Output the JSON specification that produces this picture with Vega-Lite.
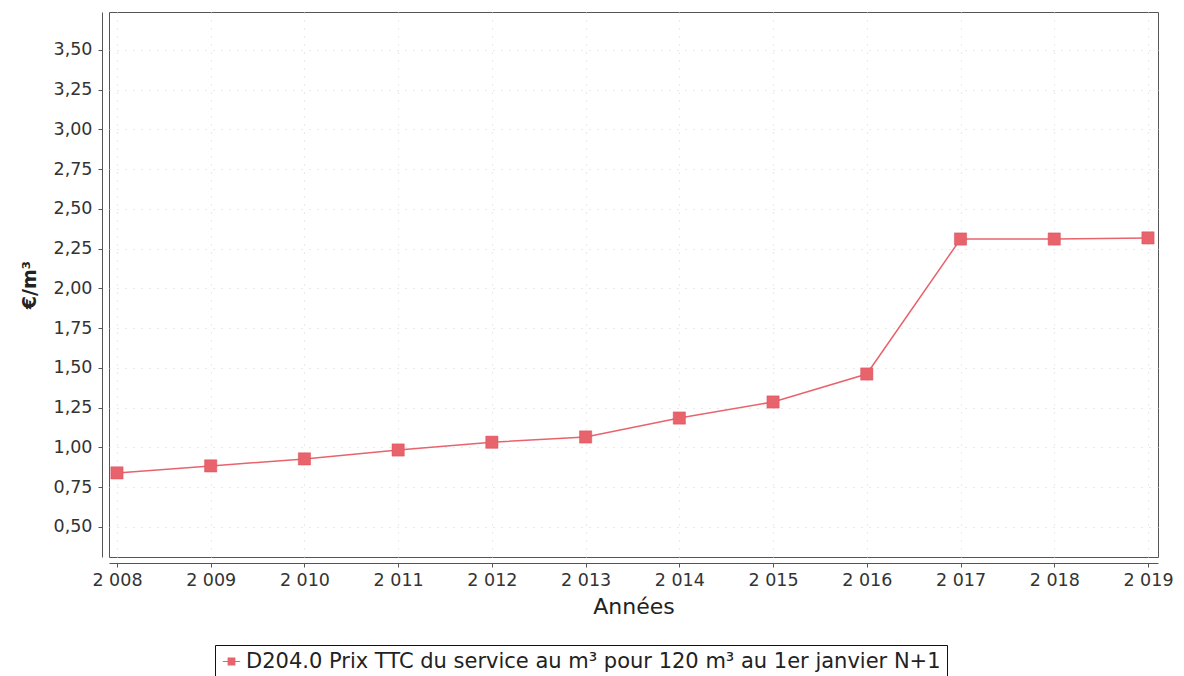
{
  "$schema": "https://vega.github.io/schema/vega-lite/v6.json",
  "width": 1049,
  "height": 545,
  "autosize": "none",
  "padding": {"left": 109, "top": 12, "right": 26, "bottom": 119},
  "background": "white",
  "config": {
    "view": {"stroke": "#555555", "strokeWidth": 1},
    "font": "DejaVu Sans"
  },
  "data": {
    "values": [
      {"annee": 2008, "prix": 0.84, "serie": "D204.0 Prix TTC du service au m³ pour 120 m³ au 1er janvier N+1"},
      {"annee": 2009, "prix": 0.884, "serie": "D204.0 Prix TTC du service au m³ pour 120 m³ au 1er janvier N+1"},
      {"annee": 2010, "prix": 0.928, "serie": "D204.0 Prix TTC du service au m³ pour 120 m³ au 1er janvier N+1"},
      {"annee": 2011, "prix": 0.984, "serie": "D204.0 Prix TTC du service au m³ pour 120 m³ au 1er janvier N+1"},
      {"annee": 2012, "prix": 1.033, "serie": "D204.0 Prix TTC du service au m³ pour 120 m³ au 1er janvier N+1"},
      {"annee": 2013, "prix": 1.066, "serie": "D204.0 Prix TTC du service au m³ pour 120 m³ au 1er janvier N+1"},
      {"annee": 2014, "prix": 1.185, "serie": "D204.0 Prix TTC du service au m³ pour 120 m³ au 1er janvier N+1"},
      {"annee": 2015, "prix": 1.286, "serie": "D204.0 Prix TTC du service au m³ pour 120 m³ au 1er janvier N+1"},
      {"annee": 2016, "prix": 1.462, "serie": "D204.0 Prix TTC du service au m³ pour 120 m³ au 1er janvier N+1"},
      {"annee": 2017, "prix": 2.311, "serie": "D204.0 Prix TTC du service au m³ pour 120 m³ au 1er janvier N+1"},
      {"annee": 2018, "prix": 2.311, "serie": "D204.0 Prix TTC du service au m³ pour 120 m³ au 1er janvier N+1"},
      {"annee": 2019, "prix": 2.318, "serie": "D204.0 Prix TTC du service au m³ pour 120 m³ au 1er janvier N+1"}
    ]
  },
  "encoding": {
    "x": {
      "field": "annee",
      "type": "quantitative",
      "scale": {"domain": [2007.915, 2019.107], "nice": false, "zero": false},
      "axis": {
        "title": "Années",
        "titleFontSize": 22,
        "titleFontWeight": "normal",
        "titleColor": "#222222",
        "titlePadding": 8,
        "values": [2008, 2009, 2010, 2011, 2012, 2013, 2014, 2015, 2016, 2017, 2018, 2019],
        "labelExpr": "substring(toString(datum.value),0,1) + ' ' + substring(toString(datum.value),1,4)",
        "labelFontSize": 17.5,
        "labelColor": "#333333",
        "labelPadding": 4,
        "offset": 6,
        "domainColor": "#555555",
        "tickColor": "#555555",
        "tickSize": 4,
        "grid": true,
        "gridColor": "#d4d4d4",
        "gridDash": [1, 7],
        "gridWidth": 1
      }
    },
    "y": {
      "field": "prix",
      "type": "quantitative",
      "scale": {"domain": [0.311, 3.739], "nice": false, "zero": false},
      "axis": {
        "title": "€/m³",
        "titleFontSize": 19,
        "titleFontWeight": "bold",
        "titleColor": "#222222",
        "titlePadding": 14,
        "values": [0.5, 0.75, 1, 1.25, 1.5, 1.75, 2, 2.25, 2.5, 2.75, 3, 3.25, 3.5],
        "labelExpr": "replace(format(datum.value, '.2f'), '.', ',')",
        "labelFontSize": 17.5,
        "labelColor": "#333333",
        "labelPadding": 6,
        "offset": 7,
        "domainColor": "#555555",
        "tickColor": "#555555",
        "tickSize": 4,
        "grid": true,
        "gridColor": "#d4d4d4",
        "gridDash": [1, 7],
        "gridWidth": 1
      }
    },
    "color": {
      "field": "serie",
      "type": "nominal",
      "scale": {"range": ["#e8636c"]},
      "legend": {
        "title": null,
        "orient": "none",
        "legendX": 106,
        "legendY": 633,
        "strokeColor": "#111111",
        "padding": 6,
        "labelFontSize": 21,
        "labelColor": "#222222",
        "labelLimit": 900,
        "symbolType": "M-1,-0.05H1V0.05H-1Z M-0.45,-0.45H0.45V0.45H-0.45Z",
        "symbolSize": 300,
        "symbolStrokeWidth": 0,
        "symbolOpacity": 1
      }
    }
  },
  "layer": [
    {
      "mark": {"type": "line", "strokeWidth": 1.5, "color": "#e4687a"}
    },
    {
      "mark": {"type": "point", "shape": "square", "filled": true, "size": 150, "opacity": 1, "stroke": "#d9505a", "strokeWidth": 0.5}
    }
  ]
}
